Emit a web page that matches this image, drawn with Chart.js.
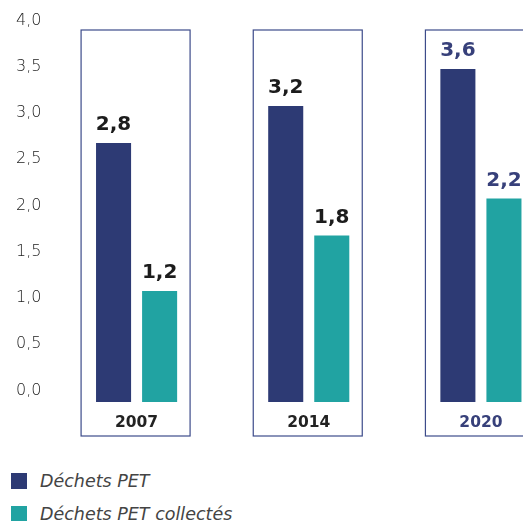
<!DOCTYPE html>
<html>
<head>
<meta charset="utf-8">
<script src="https://cdn.jsdelivr.net/npm/chart.js@4/dist/chart.umd.min.js"></script>
<style>
  html, body { margin: 0; padding: 0; background: #fff; overflow: hidden; width: 523px; height: 521px; }
  #wrap { position: absolute; left: 0; top: 0; width: 567px; height: 446px; }
  #legend { position: absolute; left: 11px; top: 464px; font-family: "DejaVu Sans", sans-serif; font-style: italic; font-weight: 200; font-size: 17.5px; color: #444; }
  #legend div { height: 33px; display: flex; align-items: center; }
  #legend span.box { display: inline-block; width: 16px; height: 16px; margin-right: 13px; }
</style>
</head>
<body>
<div id="wrap"><canvas id="chart"></canvas></div>
<div id="legend"></div>
<script>
var categories = ['2007', '2014', '2020'];
var dechetsPET = [2.8, 3.2, 3.6];
var dechetsCollectes = [1.2, 1.8, 2.2];
var seriesNames = ['Déchets PET', 'Déchets PET collectés'];
var yMin = 0, yMax = 4, yStep = 0.5;

var NAVY = '#2d3a74';
var TEAL = '#21a3a2';
var HIGHLIGHT = '#37407a';

function fr(v, d) { return v.toFixed(d).replace('.', ','); }

// cadres autour de chaque année
var boxes = {
  id: 'boxes',
  beforeDatasetsDraw: function(chart) {
    var ctx = chart.ctx, x = chart.scales.x, area = chart.chartArea;
    ctx.save();
    ctx.strokeStyle = '#3d4b8a';
    ctx.lineWidth = 1.2;
    for (var i = 0; i < categories.length; i++) {
      var cx = x.getPixelForValue(i);
      ctx.strokeRect(cx - 55.5, area.top - 2, 109, area.bottom - area.top + 36);
    }
    ctx.restore();
  }
};

// valeurs au-dessus des barres
var valueLabels = {
  id: 'valueLabels',
  afterDatasetsDraw: function(chart) {
    var ctx = chart.ctx;
    ctx.save();
    ctx.font = 'bold 20px "DejaVu Sans", sans-serif';
    ctx.textAlign = 'center';
    ctx.textBaseline = 'bottom';
    chart.data.datasets.forEach(function(ds, di) {
      chart.getDatasetMeta(di).data.forEach(function(bar, i) {
        ctx.fillStyle = i === categories.length - 1 ? HIGHLIGHT : '#1c1c1c';
        ctx.fillText(fr(ds.data[i], 1), bar.x, bar.y - 8);
      });
    });
    ctx.restore();
  }
};

var chart = new Chart(document.getElementById('chart'), {
  type: 'bar',
  data: {
    labels: categories,
    datasets: [
      { label: seriesNames[0], data: dechetsPET, backgroundColor: NAVY },
      { label: seriesNames[1], data: dechetsCollectes, backgroundColor: TEAL }
    ]
  },
  options: {
    responsive: true,
    maintainAspectRatio: false,
    animation: false,
    layout: { padding: { top: 32, right: 0, left: 0, bottom: 0 } },
    categoryPercentage: 0.535,
    barPercentage: 0.761,
    plugins: { legend: { display: false }, tooltip: { enabled: false } },
    scales: {
      x: {
        grid: { display: false, drawTicks: false },
        border: { display: false },
        ticks: {
          padding: 12,
          font: { family: '"DejaVu Sans", sans-serif', size: 15.5, weight: 'bold' },
          color: function(c) { return c.index === categories.length - 1 ? HIGHLIGHT : '#222'; }
        },
        afterFit: function(s) { s.height = 44; }
      },
      y: {
        min: yMin, max: yMax,
        grid: { display: false, drawTicks: false },
        border: { display: false },
        ticks: {
          stepSize: yStep,
          padding: 9,
          labelOffset: -11.5,
          font: { family: '"DejaVu Sans", sans-serif', size: 16, weight: 200 },
          color: '#1a1a1a',
          callback: function(v) { return fr(v, 1); }
        },
        afterFit: function(s) { s.width = 50.5; }
      }
    }
  },
  plugins: [boxes, valueLabels]
});

var legend = document.getElementById('legend');
chart.data.datasets.forEach(function(ds) {
  var row = document.createElement('div');
  var b = document.createElement('span');
  b.className = 'box';
  b.style.background = ds.backgroundColor;
  row.appendChild(b);
  row.appendChild(document.createTextNode(ds.label));
  legend.appendChild(row);
});
</script>
</body>
</html>
